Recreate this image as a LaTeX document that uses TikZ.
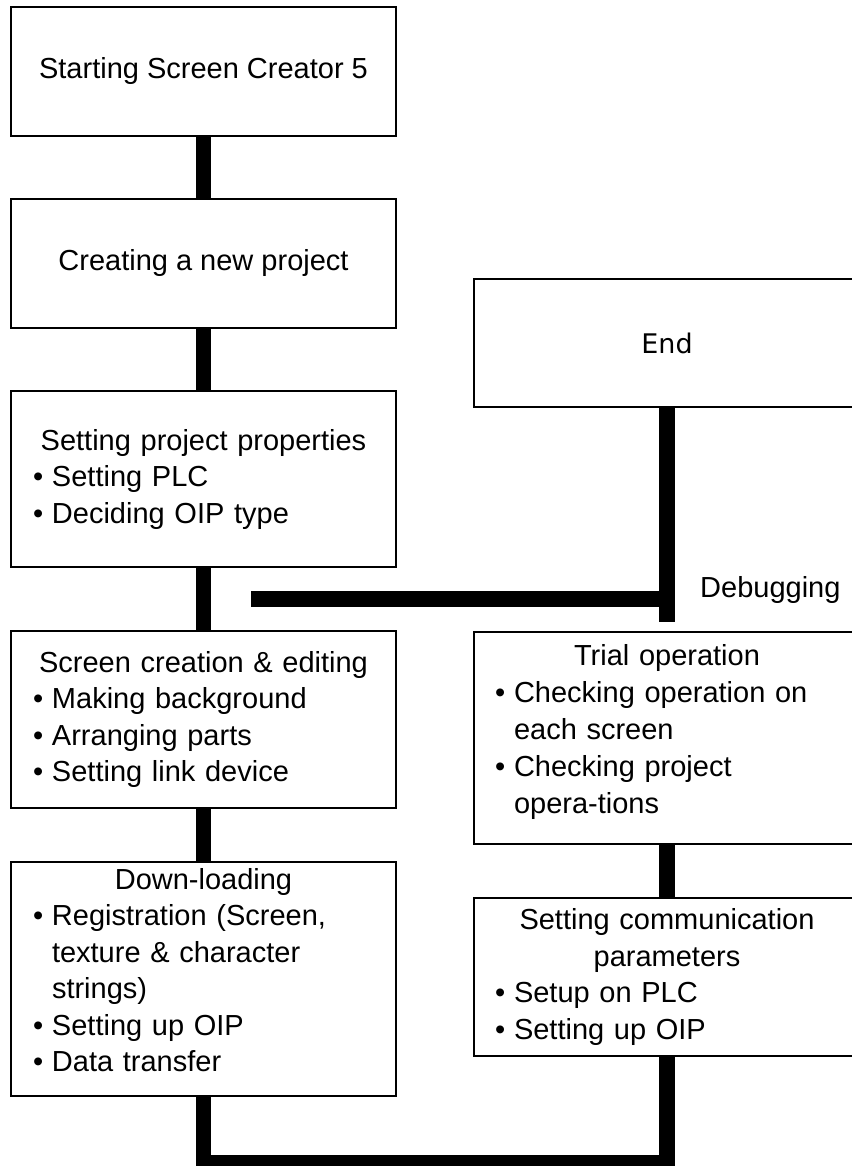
\documentclass[tikz,border=0pt]{standalone}
\usepackage{fontspec}
\setmainfont{Liberation Sans}
\newfontfamily\dejavu{DejaVu Sans}
\newcommand\hdl[1]{\hbox to\hsize{\hss#1\hss}}
\newcommand\bitem[1]{\par\hangindent=19pt\hangafter=1\noindent\hbox to19pt{\textbullet\hss}#1\par}
\tikzset{
  box/.style={draw, line width=2.5pt, rectangle, inner sep=0pt, outer sep=0pt},
  conn/.style={line width=15.5pt, line cap=butt},
  txt/.style={inner sep=0pt, font=\fontsize{29}{36.5}\selectfont},
  txtL/.style={txt, text width=#1, align=left},
}
\begin{document}
\begin{tikzpicture}[x=1pt,y=-1pt]
\useasboundingbox (0,0) rectangle (851,1166);
% left column
\node[box, minimum width=385pt, minimum height=129pt] (b1) at (203.5,71.5) {};
\node[txt] (t1) at (b1.center) {Starting Screen Creator 5};
\node[box, minimum width=385pt, minimum height=129pt] (b2) at (203.5,263.5) {};
\node[txt] (t2) at (b2.center) {Creating a new project};
\node[box, minimum width=385pt, minimum height=176pt] (b3) at (203.5,479) {};
\node[txtL=341pt] (t3) at (b3.center) {\hdl{Setting project properties}\bitem{Setting PLC}\bitem{Deciding OIP type}};
\node[box, minimum width=385pt, minimum height=177pt] (b4) at (203.5,719.5) {};
\node[txtL=341pt] (t4) at (b4.center) {\hdl{Screen creation \& editing}\bitem{Making background}\bitem{Arranging parts}\bitem{Setting link device}};
\node[box, minimum width=385pt, minimum height=234pt] (b5) at (203.5,979) {};
\node[txtL=341pt] (t5) at ([yshift=9pt]b5.center) {\hdl{Down-loading}\bitem{Registration (Screen,\newline texture \& character\newline strings)}\bitem{Setting up OIP}\bitem{Data transfer}};
% right column
\node[box, minimum width=386pt, minimum height=128pt] (end) at (667,343) {};
\node[inner sep=0pt, font=\dejavu\fontsize{27}{32}\selectfont] (tend) at (end.center) {End};
\node[box, minimum width=386pt, minimum height=212pt] (trial) at (667,738) {};
\node[txtL=344pt, font=\fontsize{29}{37}\selectfont] (ttrial) at ([yshift=6pt]trial.center) {\hdl{Trial operation}\bitem{Checking operation on\newline each screen}\bitem{Checking project\newline opera-tions}};
\node[box, minimum width=386pt, minimum height=158pt] (comm) at (667,977) {};
\node[txtL=344pt] (tcomm) at (comm.center) {\hdl{Setting communication}\par\hdl{parameters}\bitem{Setup on PLC}\bitem{Setting up OIP}};
% connectors
\draw[conn] (b1.south) -- (b2.north);
\draw[conn] (b2.south) -- (b3.north);
\draw[conn] (b3.south) -- (b4.north);
\draw[conn] (b4.south) -- (b5.north);
\coordinate (dbgL) at (251,599);
\coordinate (dbgB) at (667,622);
\draw[conn] (end.south) -- (dbgB);
\draw[conn] (dbgL) -- (dbgL -| end.south);
\node[txt, anchor=base west] (dbg) at (700,597) {Debugging};
\draw[conn] (trial.south) -- (comm.north);
\coordinate (bot) at (0,1163);
\draw[conn, line join=miter] (b5.south) -- (b5.south |- bot) -- (comm.south |- bot) -- (comm.south);
\end{tikzpicture}
\end{document}
